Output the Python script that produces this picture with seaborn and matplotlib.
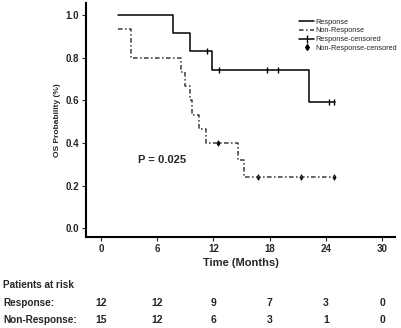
import matplotlib
matplotlib.use("Agg")
import matplotlib.pyplot as plt
import matplotlib.transforms as mtransforms
from matplotlib.lines import Line2D
import pandas as pd
import seaborn as sns

# survival curves (step points)
resp_time = [1.8, 7.7, 9.5, 11.9, 22.2, 25.0]
resp_surv = [1.0, 0.917, 0.833, 0.741, 0.593, 0.593]
resp_cens_t = [11.3, 12.6, 17.7, 18.9, 24.3, 24.9]
resp_cens_s = [0.833, 0.741, 0.741, 0.741, 0.593, 0.593]

nonr_time = [1.8, 3.2, 8.5, 9.0, 9.5, 9.7, 10.5, 11.2, 14.6, 15.3, 25.0]
nonr_surv = [0.933, 0.8, 0.733, 0.667, 0.6, 0.533, 0.467, 0.4, 0.32, 0.24, 0.24]
nonr_cens_t = [12.5, 16.8, 21.4, 24.9]
nonr_cens_s = [0.4, 0.24, 0.24, 0.24]

# patients at risk
risk_ticks = [0, 6, 12, 18, 24, 30]
resp_risk = [12, 12, 9, 7, 3, 0]
nonr_risk = [15, 12, 6, 3, 1, 0]

sns.set_style("white")
plt.rcParams["font.family"] = ["Liberation Sans", "DejaVu Sans"]

fig = plt.figure(figsize=(4.02, 3.28), dpi=100)
ax = fig.add_axes([0.214, 0.277, 0.769, 0.713])

resp = pd.DataFrame({"t": resp_time, "s": resp_surv})
nonr = pd.DataFrame({"t": nonr_time, "s": nonr_surv})
sns.lineplot(data=resp, x="t", y="s", ax=ax, color="black", lw=1.1,
             drawstyle="steps-post", estimator=None, sort=False)
sns.lineplot(data=nonr, x="t", y="s", ax=ax, color="#3a3a3a", lw=1.1,
             drawstyle="steps-post", estimator=None, sort=False,
             linestyle=(0, (3, 1.6, 1, 1.6)))
sns.scatterplot(x=resp_cens_t, y=resp_cens_s, ax=ax, marker="|", s=22,
                color="black", linewidth=1.0)
sns.scatterplot(x=nonr_cens_t, y=nonr_cens_s, ax=ax, marker="d", s=8,
                color="black", edgecolor="black", linewidth=0.5)

ax.set_xlim(-1.6, 31.4)
ax.set_ylim(-0.042, 1.056)
ax.set_xticks(risk_ticks)
ax.set_yticks([0.0, 0.2, 0.4, 0.6, 0.8, 1.0])
ax.set_yticklabels(["0.0", "0.2", "0.4", "0.6", "0.8", "1.0"])
ax.tick_params(axis="both", direction="out", length=3, width=0.8,
               labelsize=7, pad=2, left=True, bottom=True)
for lab in ax.get_xticklabels() + ax.get_yticklabels():
    lab.set_fontweight("bold")
sns.despine(ax=ax)
for sp in ["left", "bottom"]:
    ax.spines[sp].set_linewidth(1.5)
    ax.spines[sp].set_color("black")

ax.set_xlabel("Time (Months)", fontsize=8, fontweight="bold", labelpad=3)
ax.set_ylabel("OS Probability (%)", fontsize=6, fontweight="bold", labelpad=3)
ax.text(3.9, 0.32, "P = 0.025", fontsize=8, fontweight="bold", va="center")

handles = [
    Line2D([], [], color="black", lw=1.1),
    Line2D([], [], color="#3a3a3a", lw=1.1, linestyle=(0, (3, 1.6, 1, 1.6))),
    Line2D([], [], color="black", lw=1.1, marker="|", markersize=6),
    Line2D([], [], color="black", lw=0, marker="d", markersize=3),
]
labels = ["Response", "Non-Response", "Response-censored", "Non-Response-censored"]
ax.legend(handles, labels, loc="upper left", bbox_to_anchor=(0.69, 0.935),
          fontsize=5.3, frameon=False, handlelength=2.0, handletextpad=0.2,
          labelspacing=0.22, borderaxespad=0, borderpad=0)

# risk table
trans = mtransforms.blended_transform_factory(ax.transData, fig.transFigure)
fig.text(0.008, 1 - 285 / 328, "Patients at risk", fontsize=7.2,
         fontweight="bold", va="center")
fig.text(0.008, 1 - 303 / 328, "Response:", fontsize=7.2,
         fontweight="bold", va="center")
fig.text(0.008, 1 - 320 / 328, "Non-Response:", fontsize=7.2,
         fontweight="bold", va="center")
for t, r1, r2 in zip(risk_ticks, resp_risk, nonr_risk):
    ax.text(t, 1 - 303 / 328, str(r1), transform=trans, fontsize=7.5,
            fontweight="bold", ha="center", va="center")
    ax.text(t, 1 - 320 / 328, str(r2), transform=trans, fontsize=7.5,
            fontweight="bold", ha="center", va="center")

fig.savefig("out.png", dpi=100)
